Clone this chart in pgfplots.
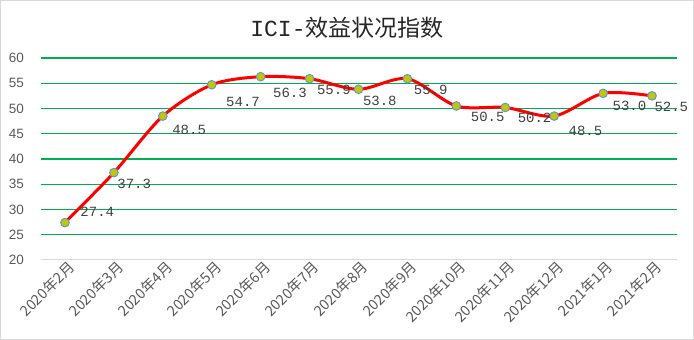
\documentclass[border=0pt]{standalone}
\usepackage{pgfplots}
\pgfplotsset{compat=1.18}
\usepackage{pgfplotstable}
\usepackage{fontspec}
\setmainfont{Liberation Sans}
\newfontfamily\cjk{Noto Sans CJK SC}
\newfontfamily\lblfont{Liberation Mono}
\definecolor{gridgreen}{HTML}{00B050}
\definecolor{markyellow}{HTML}{C8C400}
\definecolor{markblue}{HTML}{5B9BD5}
\definecolor{tickgray}{HTML}{595959}
\definecolor{lblgray}{HTML}{404040}
\pgfplotstableread{
x y dx dy
0 27.4 15 11
1 37.3 3 -11
2 48.5 9 -14
3 54.7 14 -17
4 56.3 12 -16
5 55.9 7 -11
6 53.8 4 -12
7 55.9 6 -11
8 50.5 14 -11
9 50.2 12 -10
10 48.5 14 -15
11 53.0 9 -13
12 52.5 2 -11
}\datatable
\begin{document}
\begin{tikzpicture}
\path[use as bounding box] (0pt,0pt) rectangle (694pt,340pt);
\draw[color=black!15, line width=1.2pt] (0.6pt,0.6pt) rectangle (693.4pt,339.4pt);
\node[font=\fontsize{23}{23}\selectfont, text=black!85] at (347pt,312pt) {{\lblfont ICI-}{\cjk 效益状况指数}};
\begin{axis}[
  at={(40.5pt,80pt)}, anchor=south west,
  width=636pt, height=202pt, scale only axis,
  xmin=-0.5, xmax=12.5, ymin=20, ymax=60,
  xtick={0,...,12},
  xticklabels={2020年2月,2020年3月,2020年4月,2020年5月,2020年6月,2020年7月,2020年8月,2020年9月,2020年10月,2020年11月,2020年12月,2021年1月,2021年2月},
  ytick={25,30,...,60},
  extra y ticks={20},
  extra y tick style={grid=none},
  ymajorgrids,
  grid style={gridgreen, line width=1.4pt},
  major tick length=0pt,
  axis x line*=bottom,
  axis y line*=left,
  x axis line style={draw=black!15, line width=1pt, -},
  y axis line style={draw=none},
  /pgf/number format/assume math mode=true,
  yticklabel style={font=\fontsize{13.5}{13.5}\selectfont, text=tickgray, xshift=-13pt},
  xticklabel style={font=\cjk\fontsize{14.5}{14.5}\selectfont, text=tickgray, rotate=45, anchor=east, xshift=5pt, yshift=-8pt},
  clip=false,
]
\addplot[red, line width=3pt, smooth, mark=*, mark size=4.3pt,
  mark options={fill=markyellow, draw=markblue, line width=1pt},
  visualization depends on={\thisrow{dx} \as \dx},
  visualization depends on={\thisrow{dy} \as \dy},
  point meta=y,
  nodes near coords={\pgfmathprintnumber[fixed,fixed zerofill,precision=1,assume math mode=true]{\pgfplotspointmeta}},
  nodes near coords style={font=\lblfont\fontsize{14}{14}\selectfont, text=lblgray, anchor=west, inner sep=0pt, xshift=\dx pt, yshift=\dy pt},
] table[x=x, y=y] {\datatable};
\end{axis}
\end{tikzpicture}
\end{document}
